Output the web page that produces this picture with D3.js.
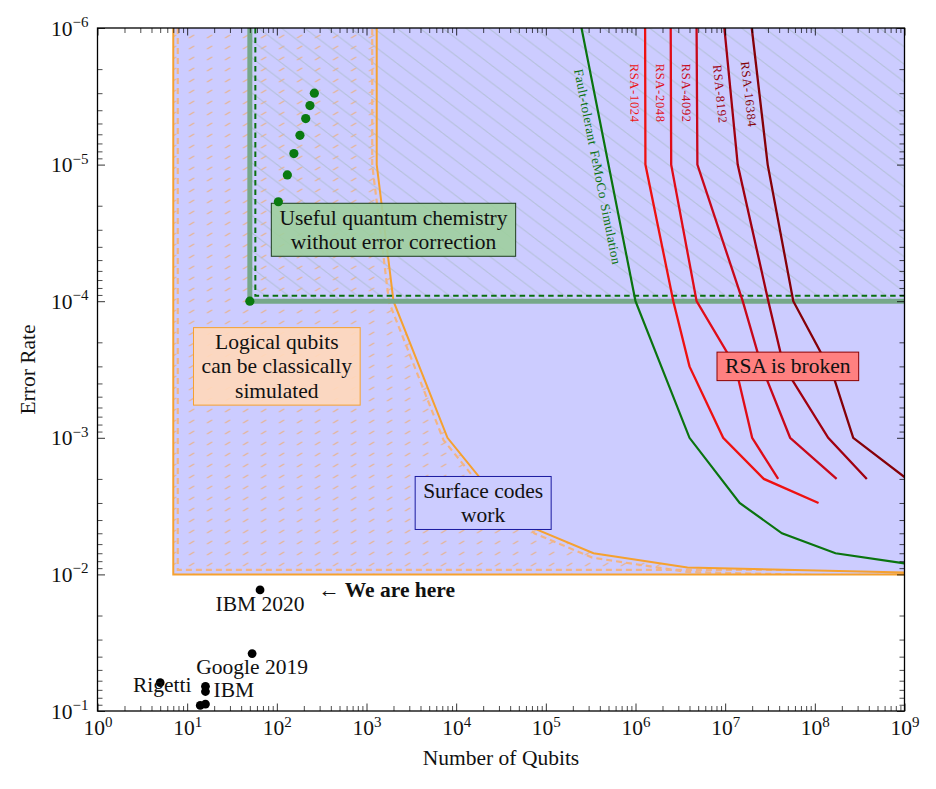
<!DOCTYPE html>
<html>
<head>
<meta charset="utf-8">
<script src="https://cdn.jsdelivr.net/npm/d3@7"></script>
<style>
    body { margin: 0; background: #fff; }
    svg text { font-family: "Liberation Serif", "DejaVu Serif", serif; fill: #111; }
</style>
</head>
<body>
<div id="chart"></div>
<script>
// ---- values (x = number of qubits, y = error rate) ----

// region where logical qubits can be classically simulated
const orangeBoundary = [[7, 1e-6], [7, 1e-2], [1e9, 1e-2], [1e9, 9.7e-3], [3.8e6, 8.9e-3], [3.4e5, 7e-3],
    [8e4, 4.7e-3], [2e4, 2.1e-3], [8000, 1e-3], [2000, 1e-4], [1300, 1e-5], [1300, 1e-6]];
// surface codes region (blue)
const surfaceRegion = [[7, 1e-6], [1e9, 1e-2]];
// useful chemistry without error correction
const chemistryBoundary = [[50, 1e-6], [50, 1e-4], [1e9, 1e-4]];
const chemistryQubits = [50, 104, 131, 155, 181, 210, 234, 262];
const chemistryErrors = [1e-4, 1.87e-5, 1.19e-5, 8.3e-6, 6.1e-6, 4.6e-6, 3.7e-6, 3.0e-6];

const femocoCurve = [[2.5e5, 1e-6], [1e6, 1e-4], [4e6, 1e-3], [1.45e7, 3e-3], [4.3e7, 5e-3], [1.7e8, 7e-3], [1e9, 8.3e-3]];

const rsa1024 = [[1.28e6, 1e-6], [1.29e6, 1e-5], [2.64e6, 1e-4], [4e6, 3e-4], [9.5e6, 1e-3], [2.7e7, 2e-3], [1.1e8, 3e-3]];
const rsa2048 = [[2.47e6, 1e-6], [2.5e6, 1e-5], [4.8e6, 1e-4], [1.3e7, 3e-4], [2e7, 1e-3], [3.9e7, 2e-3]];
const rsa4092 = [[4.8e6, 1e-6], [4.9e6, 1e-5], [1.57e7, 1e-4], [2.55e7, 3e-4], [5.3e7, 1e-3], [1.75e8, 2e-3]];
const rsa8192 = [[9.8e6, 1e-6], [1.38e7, 1e-5], [3.03e7, 1e-4], [4.5e7, 3e-4], [1.41e8, 1e-3], [3.8e8, 2e-3]];
const rsa16384 = [[1.98e7, 1e-6], [2.98e7, 1e-5], [5.75e7, 1e-4], [1.6e8, 3.5e-4], [2.68e8, 1e-3], [1e9, 1.94e-3]];
const rsaNames = ["RSA-1024", "RSA-2048", "RSA-4092", "RSA-8192", "RSA-16384"];
const rsaColors = ["#ee1111", "#e00c18", "#c8081a", "#a00010", "#850008"];

// current devices
const deviceNames = ["IBM 2020", "Google 2019", "Rigetti", "IBM", "", "", ""];
const deviceQubits = [65, 53, 5, 16, 16, 14, 16];
const deviceErrors = [0.013, 0.038, 0.062, 0.066, 0.072, 0.091, 0.089];

const xTicks = [1, 1e1, 1e2, 1e3, 1e4, 1e5, 1e6, 1e7, 1e8, 1e9];
const yTicks = [1e-6, 1e-5, 1e-4, 1e-3, 1e-2, 1e-1];


class QubitPlot {

    constructor(parentElement) {
        this.parentElement = parentElement;
    }

    initVis() {
        let vis = this;

        vis.margin = {top: 28, right: 31.5, bottom: 78, left: 97.5};
        vis.width = 936 - vis.margin.left - vis.margin.right;
        vis.height = 789 - vis.margin.top - vis.margin.bottom;
        vis.fontSize = 21.5;

        vis.root = d3.select("#" + vis.parentElement).append("svg")
            .attr("width", 936)
            .attr("height", 789);
        vis.svg = vis.root.append("g")
            .attr("transform", "translate(" + vis.margin.left + "," + vis.margin.top + ")");

        // scales
        vis.x = d3.scaleLog().domain([1, 1e9]).range([0, vis.width]);
        vis.y = d3.scaleLog().domain([1e-6, 1e-1]).range([0, vis.height]);
        vis.line = d3.line().x(d => vis.x(d[0])).y(d => vis.y(d[1]));

        let defs = vis.svg.append("defs");
        defs.append("clipPath").attr("id", "plotclip")
            .append("rect").attr("width", vis.width).attr("height", vis.height);
        defs.append("clipPath").attr("id", "orangeclip")
            .append("path").attr("d", vis.line(orangeBoundary) + "Z");

        // orange dashed hatching "/"
        let p1 = defs.append("pattern").attr("id", "orangeHatch")
            .attr("patternUnits", "userSpaceOnUse").attr("width", 18).attr("height", 11);
        p1.append("line").attr("x1", 2).attr("y1", 9.8).attr("x2", 6.2).attr("y2", 7.2)
            .attr("stroke", "#f0aa6c").attr("stroke-width", 1.3).attr("stroke-linecap", "round")
            .attr("opacity", 0.75);
        // grey hatching "\"
        let p2 = defs.append("pattern").attr("id", "greyHatch")
            .attr("patternUnits", "userSpaceOnUse").attr("width", 23).attr("height", 17.5);
        p2.append("line").attr("x1", 0).attr("y1", 0).attr("x2", 23).attr("y2", 17.5)
            .attr("stroke", "#a8bac6").attr("stroke-width", 0.9);

        let plot = vis.svg.append("g").attr("clip-path", "url(#plotclip)");

        // blue surface code region
        plot.append("rect")
            .attr("x", vis.x(surfaceRegion[0][0]))
            .attr("y", vis.y(surfaceRegion[0][1]))
            .attr("width", vis.x(surfaceRegion[1][0]) - vis.x(surfaceRegion[0][0]))
            .attr("height", vis.y(surfaceRegion[1][1]) - vis.y(surfaceRegion[0][1]))
            .attr("fill", "#ccccff");

        // hatchings
        plot.append("path")
            .attr("d", vis.line(orangeBoundary) + "Z")
            .attr("fill", "url(#orangeHatch)");
        plot.append("rect")
            .attr("x", vis.x(chemistryBoundary[0][0]))
            .attr("y", vis.y(chemistryBoundary[0][1]))
            .attr("width", vis.x(chemistryBoundary[2][0]) - vis.x(chemistryBoundary[0][0]))
            .attr("height", vis.y(chemistryBoundary[1][1]) - vis.y(chemistryBoundary[0][1]))
            .attr("fill", "url(#greyHatch)");

        // orange boundary, dashed inner copy + solid
        let orangePx = orangeBoundary.map(d => [vis.x(d[0]), vis.y(d[1])]);
        plot.append("g").attr("clip-path", "url(#orangeclip)")
            .append("path")
            .attr("d", d3.line()(vis.inset(orangePx, 4.5)))
            .attr("fill", "none").attr("stroke", "#f3b584")
            .attr("stroke-width", 2.2).attr("stroke-dasharray", "6 4");
        plot.append("path")
            .attr("d", vis.line(orangeBoundary))
            .attr("fill", "none").attr("stroke", "#f5a130")
            .attr("stroke-width", 2);

        // chemistry boundary
        let chemPx = chemistryBoundary.map(d => [vis.x(d[0]), vis.y(d[1])]);
        plot.append("path")
            .attr("d", vis.line(chemistryBoundary))
            .attr("fill", "none").attr("stroke", "#76a88a")
            .attr("stroke-width", 5);
        plot.append("path")
            .attr("d", d3.line()(vis.inset(chemPx, 5.5)))
            .attr("fill", "none").attr("stroke", "#0a7010")
            .attr("stroke-width", 2).attr("stroke-dasharray", "5.5 4");

        // FeMoCo curve
        plot.append("path")
            .attr("d", vis.line(femocoCurve))
            .attr("fill", "none").attr("stroke", "#0a740f")
            .attr("stroke-width", 2.2);

        // RSA curves
        let rsaCurves = [rsa1024, rsa2048, rsa4092, rsa8192, rsa16384];
        rsaCurves.forEach((c, i) => {
            plot.append("path")
                .attr("d", vis.line(c))
                .attr("fill", "none").attr("stroke", rsaColors[i])
                .attr("stroke-width", 2.3);
            vis.labelAlong(plot, c, 3e-6, 10.5, rsaNames[i], rsaColors[i], 12.5, 0.7, 0);
        });
        vis.labelAlong(plot, femocoCurve, 1e-5, 11, "Fault-tolerant FeMoCo Simulation", "#0a740f", 13, 0.45, 2);

        // annotation boxes
        vis.drawBox(["Useful quantum chemistry", "without error correction"], 2000, 3e-5, "#9fcf9f", "#1d3d1d", 0.9);
        vis.drawBox(["Logical qubits", "can be classically", "simulated"], 100, 3e-4, "#ffd8bc", "#f5a130", 0.92);
        vis.drawBox(["Surface codes", "work"], 2e4, 3e-3, "#ccccff", "#1a1aa0", 1);
        vis.drawBox(["RSA is broken"], 5e7, 3e-4, "#ff8080", "#8b0000", 1);

        // chemistry points (on top of the box)
        vis.svg.selectAll("circle.chem")
            .data(chemistryQubits)
            .enter().append("circle")
            .attr("class", "chem")
            .attr("cx", d => vis.x(d))
            .attr("cy", (d, i) => vis.y(chemistryErrors[i]))
            .attr("r", 4.6)
            .attr("fill", "#0a7a10");

        // devices
        vis.svg.selectAll("circle.dev")
            .data(deviceQubits)
            .enter().append("circle")
            .attr("class", "dev")
            .attr("cx", d => vis.x(d))
            .attr("cy", (d, i) => vis.y(deviceErrors[i]))
            .attr("r", 4.4)
            .attr("fill", "#000");

        // device labels: [dx, dy, anchor]
        let labelPlace = [[0, 21, "middle"], [0, 20, "middle"], [2, 9, "middle"], [8, 11, "start"]];
        deviceNames.forEach((n, i) => {
            if (!n) return;
            vis.svg.append("text")
                .attr("x", vis.x(deviceQubits[i]) + labelPlace[i][0])
                .attr("y", vis.y(deviceErrors[i]) + labelPlace[i][1])
                .attr("text-anchor", labelPlace[i][2])
                .attr("font-size", vis.fontSize)
                .text(n);
        });
        vis.svg.append("text")
            .attr("x", vis.x(290))
            .attr("y", vis.y(deviceErrors[0]) + 7)
            .attr("font-size", vis.fontSize)
            .attr("font-weight", "bold")
            .text("\u2190 We are here");

        vis.drawAxes();
    }

    // offset a pixel polyline inward (interior on the right of travel in screen coords)
    inset(pts, d) {
        let n = pts.length;
        let normals = [];
        for (let i = 0; i < n - 1; i++) {
            let dx = pts[i + 1][0] - pts[i][0], dy = pts[i + 1][1] - pts[i][1];
            let L = Math.hypot(dx, dy) || 1;
            normals.push([dy / L, -dx / L]);
        }
        return pts.map((p, i) => {
            let a = normals[Math.max(0, i - 1)], b = normals[Math.min(n - 2, i)];
            let k = 1 + a[0] * b[0] + a[1] * b[1];
            return [p[0] + d * (a[0] + b[0]) / k, p[1] + d * (a[1] + b[1]) / k];
        });
    }

    labelAlong(g, curve, yVal, offset, txt, color, size, spacing, wordSpacing) {
        let vis = this;
        let pts = curve.map(d => [vis.x(d[0]), vis.y(d[1])]);
        let ty = vis.y(yVal);
        let i = 0;
        while (i < pts.length - 2 && pts[i + 1][1] < ty) i++;
        let a = pts[i], b = pts[i + 1];
        let t = (ty - a[1]) / (b[1] - a[1]);
        let px = a[0] + t * (b[0] - a[0]);
        let dx = b[0] - a[0], dy = b[1] - a[1], L = Math.hypot(dx, dy);
        let nx = -dy / L, ny = dx / L;
        let ang = Math.atan2(dy, dx) * 180 / Math.PI;
        g.append("text")
            .attr("transform", `translate(${px + nx * offset},${ty + ny * offset}) rotate(${ang})`)
            .attr("text-anchor", "middle")
            .attr("dy", "0.35em")
            .attr("font-size", size)
            .attr("letter-spacing", spacing)
            .attr("word-spacing", wordSpacing)
            .style("fill", color)
            .text(txt);
    }

    drawBox(lines, xVal, yVal, fill, stroke, opacity) {
        let vis = this;
        let cx = vis.x(xVal), cy = vis.y(yVal);
        let lh = 24.5;
        let g = vis.svg.append("g");
        let rect = g.append("rect");
        let text = g.append("text")
            .attr("text-anchor", "middle")
            .attr("font-size", vis.fontSize);
        lines.forEach((l, i) => {
            text.append("tspan")
                .attr("x", cx)
                .attr("y", cy - (lines.length - 1) * lh / 2 + i * lh + 7)
                .text(l);
        });
        let bb = text.node().getBBox();
        let w = bb.width + 16, h = lines.length * lh + 4;
        rect.attr("x", cx - w / 2).attr("y", cy - h / 2)
            .attr("width", w).attr("height", h)
            .attr("fill", fill).attr("fill-opacity", opacity)
            .attr("stroke", stroke).attr("stroke-width", 1);
    }

    drawAxes() {
        let vis = this;
        let minorX = d3.range(0, 9).flatMap(k => d3.range(2, 10).map(m => m * Math.pow(10, k)));
        let minorY = d3.range(-6, -1).flatMap(k => d3.range(2, 10).map(m => m * Math.pow(10, k)));

        let axes = [
            [d3.axisBottom(vis.x), "translate(0," + vis.height + ")", xTicks, minorX, "bottom"],
            [d3.axisTop(vis.x), "translate(0,0)", xTicks, minorX, "top"],
            [d3.axisLeft(vis.y), "translate(0,0)", yTicks, minorY, "left"],
            [d3.axisRight(vis.y), "translate(" + vis.width + ",0)", yTicks, minorY, "right"]
        ];
        axes.forEach(a => {
            let major = a[0].tickValues(a[2]).tickSizeInner(-7.5).tickSizeOuter(0).tickPadding(9);
            let g = vis.svg.append("g").attr("transform", a[1]).call(major);
            g.select(".domain").remove();
            g.selectAll(".tick line").attr("stroke", "#000").attr("stroke-width", 0.8);
            if (a[4] === "bottom") {
                g.selectAll(".tick text").each(function (d) {
                    let t = d3.select(this).text(null).attr("y", 24).attr("dy", null)
                        .attr("font-size", vis.fontSize).attr("font-family", null).style("fill", "#111");
                    t.append("tspan").text("10");
                    t.append("tspan").attr("dy", -8.5).attr("font-size", 15).text(Math.round(Math.log10(d)));
                });
            } else if (a[4] === "left") {
                g.selectAll(".tick text").each(function (d) {
                    let t = d3.select(this).text(null).attr("y", 7).attr("dy", null)
                        .attr("font-size", vis.fontSize).attr("font-family", null).style("fill", "#111");
                    t.append("tspan").text("10");
                    t.append("tspan").attr("dy", -8.5).attr("font-size", 15)
                        .text("\u2212" + Math.abs(Math.round(Math.log10(d))));
                });
            } else {
                g.selectAll(".tick text").remove();
            }
            let minorAxis = a[0].tickValues(a[3]).tickSizeInner(-5).tickFormat("");
            let gm = vis.svg.append("g").attr("transform", a[1]).call(minorAxis);
            gm.select(".domain").remove();
            gm.selectAll(".tick line").attr("stroke", "#000").attr("stroke-width", 0.7);
        });

        // frame
        vis.svg.append("rect")
            .attr("width", vis.width).attr("height", vis.height)
            .attr("fill", "none").attr("stroke", "#000").attr("stroke-width", 1.3);

        // axis titles
        vis.svg.append("text")
            .attr("x", vis.width / 2).attr("y", vis.height + 54)
            .attr("text-anchor", "middle")
            .attr("font-size", vis.fontSize)
            .text("Number of Qubits");
        vis.svg.append("text")
            .attr("transform", `translate(${27 - vis.margin.left},${vis.height / 2}) rotate(-90)`)
            .attr("text-anchor", "middle")
            .attr("dy", "0.35em")
            .attr("font-size", vis.fontSize)
            .text("Error Rate");
    }
}

let plot = new QubitPlot("chart");
plot.initVis();
</script>
</body>
</html>
